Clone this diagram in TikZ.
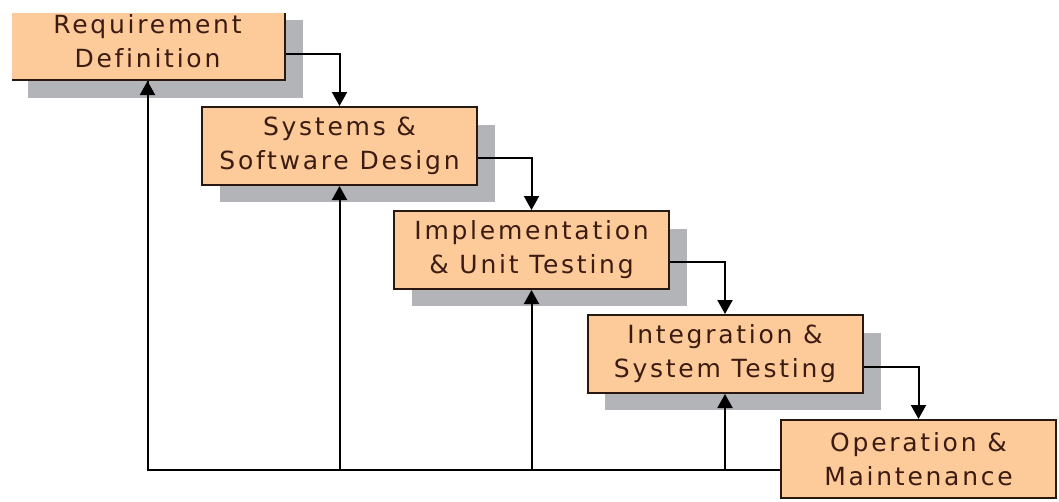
\documentclass[tikz,border=0pt]{standalone}
\usepackage{fontspec}
\newfontfamily\boxfont[LetterSpace=11,Ligatures=NoCommon]{DejaVu Sans}
\usetikzlibrary{arrows.meta,calc}
\definecolor{boxfill}{RGB}{253,202,153}
\definecolor{boxline}{RGB}{40,24,16}
\definecolor{boxtext}{RGB}{60,28,18}
\definecolor{shadowgray}{RGB}{178,180,184}
\tikzset{
  stage/.style={draw=boxline, line width=2pt, fill=boxfill, minimum width=275pt, minimum height=78pt,
    inner sep=0pt, align=center, text=boxtext, font={\boxfont\fontsize{25}{34}\selectfont}},
  conn/.style={draw=black, line width=2pt, -{Triangle[width=15pt,length=14pt]}},
  plain/.style={draw=black, line width=2pt}
}
\begin{document}
\begin{tikzpicture}[x=1pt,y=-1pt]
\useasboundingbox (0,0) rectangle (1059,501);
\fill[white] (0,0) rectangle (1059,501);
% shadows
\begin{scope}
\clip (12,13) rectangle (1059,501);
\fill[shadowgray] (28,20) rectangle (303,98);
\end{scope}
\fill[shadowgray] (220,125) rectangle (495,202);
\fill[shadowgray] (412,229) rectangle (687,306);
\fill[shadowgray] (605,333) rectangle (881,410);
% boxes
\begin{scope}
\clip (12,13) rectangle (1059,501);
\node[stage] (b1) at (147.5,41) {Requirement\\Definition};
\end{scope}
\node[stage] (b2) at (339.5,146) {Systems \&\\Software Design};
\node[stage] (b3) at (531.5,250) {Implementation\\\& Unit Testing};
\node[stage] (b4) at (725,354) {Integration \&\\System Testing};
\node[stage] (b5) at (918.5,459) {Operation \&\\Maintenance};
% forward flow
\draw[conn] ([yshift=-13pt]b1.east) -| (b2.north);
\draw[conn] ([yshift=-12pt]b2.east) -| (b3.north);
\draw[conn] ([yshift=-12pt]b3.east) -| (b4.north);
\draw[conn] ([yshift=-13pt]b4.east) -| (b5.north);
% feedback
\coordinate (fb) at ([yshift=-11pt]b5.west);
\draw[plain] (fb) -| (b1.south);
\draw[conn] (b1.south |- fb) -- (b1.south);
\draw[conn] (b2.south |- fb) -- (b2.south);
\draw[conn] (b3.south |- fb) -- (b3.south);
\draw[conn] (b4.south |- fb) -- (b4.south);
\end{tikzpicture}
\end{document}
